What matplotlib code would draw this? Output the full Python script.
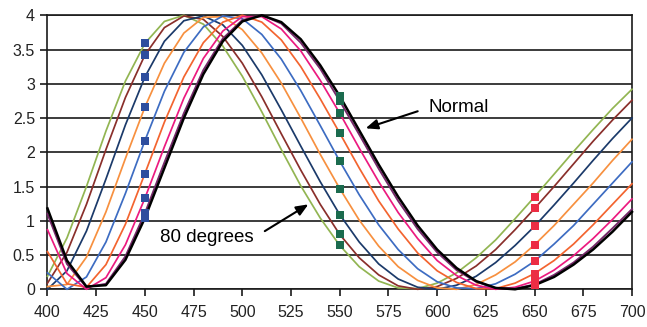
"""Reflectance of a thin film versus wavelength, one curve per incidence angle."""

import matplotlib
matplotlib.use("Agg")
import matplotlib.pyplot as plt
import matplotlib.ticker as ticker

plt.rcParams["font.family"] = ["Liberation Sans", "DejaVu Sans"]

# wavelength (nm)
WAVELENGTH = [400, 410, 420, 430, 440, 450, 460, 470, 480, 490, 500,
              510, 520, 530, 540, 550, 560, 570, 580, 590, 600,
              610, 620, 630, 640, 650, 660, 670, 680, 690, 700]

# one series per incidence angle
DEG_0 = [1.18, 0.42, 0.04, 0.06, 0.43, 1.04, 1.77, 2.50, 3.14, 3.62, 3.91,
         4.00, 3.90, 3.65, 3.27, 2.82, 2.32, 1.82, 1.35, 0.93, 0.58,
         0.31, 0.12, 0.02, 0.00, 0.06, 0.18, 0.36, 0.58, 0.84, 1.13]
DEG_10 = [1.10, 0.37, 0.03, 0.08, 0.48, 1.11, 1.85, 2.57, 3.20, 3.66, 3.93,
          4.00, 3.88, 3.60, 3.22, 2.75, 2.26, 1.76, 1.29, 0.88, 0.54,
          0.28, 0.11, 0.02, 0.01, 0.07, 0.21, 0.39, 0.62, 0.89, 1.17]
DEG_20 = [0.87, 0.23, 0.00, 0.17, 0.65, 1.33, 2.08, 2.79, 3.37, 3.77, 3.98,
          3.98, 3.80, 3.48, 3.05, 2.57, 2.06, 1.57, 1.12, 0.74, 0.42,
          0.20, 0.06, 0.00, 0.03, 0.12, 0.28, 0.49, 0.74, 1.02, 1.32]
DEG_30 = [0.55, 0.08, 0.03, 0.36, 0.95, 1.69, 2.44, 3.10, 3.60, 3.90, 4.00,
          3.90, 3.64, 3.25, 2.78, 2.28, 1.77, 1.29, 0.88, 0.53, 0.27,
          0.10, 0.01, 0.01, 0.09, 0.23, 0.42, 0.66, 0.94, 1.24, 1.54]
DEG_40 = [0.24, 0.00, 0.18, 0.69, 1.40, 2.17, 2.89, 3.46, 3.83, 3.99, 3.95,
          3.72, 3.36, 2.90, 2.39, 1.87, 1.38, 0.94, 0.58, 0.30, 0.11,
          0.02, 0.01, 0.08, 0.22, 0.41, 0.66, 0.93, 1.24, 1.55, 1.86]
DEG_50 = [0.04, 0.07, 0.47, 1.13, 1.91, 2.66, 3.30, 3.74, 3.97, 3.98, 3.79,
          3.45, 3.01, 2.50, 1.97, 1.47, 1.01, 0.63, 0.33, 0.13, 0.02,
          0.00, 0.07, 0.21, 0.40, 0.65, 0.93, 1.24, 1.55, 1.88, 2.19]
DEG_60 = [0.00, 0.27, 0.85, 1.61, 2.40, 3.10, 3.62, 3.92, 3.99, 3.86, 3.56,
          3.13, 2.62, 2.09, 1.57, 1.09, 0.69, 0.37, 0.15, 0.03, 0.00,
          0.06, 0.19, 0.39, 0.64, 0.92, 1.23, 1.55, 1.88, 2.20, 2.50]
DEG_70 = [0.09, 0.54, 1.24, 2.04, 2.80, 3.42, 3.82, 3.99, 3.94, 3.69, 3.30,
          2.81, 2.27, 1.74, 1.24, 0.80, 0.46, 0.21, 0.05, 0.00, 0.04,
          0.16, 0.34, 0.58, 0.87, 1.18, 1.50, 1.83, 2.16, 2.47, 2.76]
DEG_80 = [0.19, 0.75, 1.50, 2.31, 3.04, 3.59, 3.91, 4.00, 3.87, 3.55, 3.11,
          2.59, 2.04, 1.51, 1.04, 0.64, 0.33, 0.12, 0.02, 0.01, 0.09,
          0.24, 0.46, 0.72, 1.03, 1.35, 1.68, 2.01, 2.33, 2.64, 2.92]

# drawn from 80 degrees to normal so the black curve ends up on top
SERIES = [
    (DEG_80, "#92B552", 1.25),
    (DEG_70, "#8A2F2B", 1.25),
    (DEG_60, "#1B3A6A", 1.25),
    (DEG_50, "#F7903F", 1.25),
    (DEG_40, "#3D6CC2", 1.25),
    (DEG_30, "#F3642F", 1.25),
    (DEG_20, "#EC1A80", 1.25),
    (DEG_10, "#76286A", 1.4),
    (DEG_0, "#000000", 1.8),
]

# square markers picked at three wavelengths
MARKER_WL = [450, 550, 650]
MARKER_COLORS = ["#2E4E9E", "#1B6B4E", "#EC2D44"]

X_TICKS = [400, 425, 450, 475, 500, 525, 550, 575, 600, 625, 650, 675, 700]


def main():
    fig = plt.figure(figsize=(6.47, 3.27), dpi=100)
    ax = fig.add_axes([0.0734, 0.1153, 0.9034, 0.838])

    for values, color, lw in SERIES:
        ax.plot(WAVELENGTH, values, color=color, linewidth=lw,
                zorder=3, clip_on=False, solid_joinstyle="round")

    for wl, color in zip(MARKER_WL, MARKER_COLORS):
        idx = WAVELENGTH.index(wl)
        ys = [values[idx] for values, _, _ in SERIES]
        ax.plot([wl] * len(ys), ys, linestyle="none", marker="s",
                markersize=5.8, markeredgewidth=0, color=color,
                zorder=5, clip_on=False)

    # annotations
    arrow = dict(arrowstyle="-|>,head_length=0.6,head_width=0.25",
                 color="black", lw=1.5, mutation_scale=12)
    ax.annotate("Normal", xy=(563.3, 2.35), xytext=(595.5, 2.65),
                fontsize=13.5, va="center", ha="left", zorder=6,
                arrowprops=dict(arrow, relpos=(0, 0.5), shrinkA=6, shrinkB=0))
    ax.annotate("80 degrees", xy=(533.9, 1.24), xytext=(457.8, 0.75),
                fontsize=13.5, va="center", ha="left", zorder=6,
                arrowprops=dict(arrow, relpos=(1, 0.5), shrinkA=7, shrinkB=0))

    ax.set_xlim(400, 700)
    ax.set_ylim(0, 4)
    ax.set_xticks(X_TICKS)
    ax.yaxis.set_major_locator(ticker.MultipleLocator(0.5))
    ax.yaxis.set_major_formatter(ticker.FuncFormatter(lambda v, _: f"{v:g}"))

    ax.yaxis.grid(True, color="#1a1a1a", linewidth=1.2)
    ax.set_axisbelow(True)
    for side in ("left", "right", "bottom", "top"):
        ax.spines[side].set_color("#1a1a1a")
        ax.spines[side].set_linewidth(1.2)

    ax.tick_params(direction="out", length=5, width=1.2, color="#1a1a1a",
                   labelsize=11.5, labelcolor="#222222", pad=4)
    ax.tick_params(axis="x", pad=6)

    fig.savefig("out.png", dpi=100)
    plt.close(fig)


if __name__ == "__main__":
    main()
